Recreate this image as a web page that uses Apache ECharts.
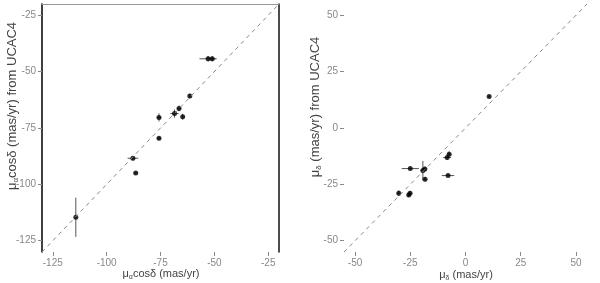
<!DOCTYPE html>
<html><head><meta charset="utf-8">
<script src="https://cdn.jsdelivr.net/npm/echarts@6/dist/echarts.min.js"></script>
<style>html,body{margin:0;padding:0;background:#fff}#c{width:600px;height:283px}</style>
</head><body><div id="c"></div>
<script>
// ---- Left panel: mu_alpha cos(delta) ----
const raX   = [-52.9, -51.0, -61.4, -66.4, -68.5, -64.7, -75.7, -75.7, -87.8, -86.5, -114.3];
const raY   = [-44.3, -44.3, -60.8, -66.3, -68.6, -70.0, -70.3, -79.6, -88.4, -95.0, -114.6];
const raXe  = [4.0, 1.5, 0.5, 1.0, 1.9, 0.5, 1.0, 0.8, 2.5, 1.0, 0.5];
const raYe  = [1.2, 1.2, 1.0, 1.3, 1.8, 1.3, 1.8, 0.8, 1.0, 0.5, 8.7];
const raTicks = [-125, -100, -75, -50, -25];
const raRange = [-130, -20];
// ---- Right panel: mu_delta ----
const decX  = [10.7, -7.4, -8.3, -7.9, -25.0, -19.3, -18.4, -18.3, -30.2, -25.1, -25.7];
const decY  = [14.0, -11.6, -13.1, -21.1, -18.0, -18.9, -18.2, -22.7, -28.9, -28.9, -29.7];
const decXe = [0.5, 1.0, 1.8, 2.8, 3.9, 1.0, 1.0, 0.5, 0.8, 1.0, 0.8];
const decYe = [0.5, 1.3, 1.0, 0.5, 0.5, 4.3, 1.0, 1.0, 1.3, 1.0, 1.0];
const decTicks = [-50, -25, 0, 25, 50];
const decRange = [-55, 55];

const FONT = 'Liberation Sans, Arial, sans-serif';
const chart = echarts.init(document.getElementById('c'), null, {renderer: 'canvas'});

function pts(xs, ys) { return xs.map((x, i) => [x, ys[i]]); }
function errs(xs, ys, xe, ye) { return xs.map((x, i) => [x, ys[i], xe[i], ye[i]]); }

function errRender(params, api) {
  const x = api.value(0), y = api.value(1), xe = api.value(2), ye = api.value(3);
  const h0 = api.coord([x - xe, y]), h1 = api.coord([x + xe, y]);
  const v0 = api.coord([x, y - ye]), v1 = api.coord([x, y + ye]);
  const st = {stroke: '#555', lineWidth: 1};
  return {type: 'group', children: [
    {type: 'line', shape: {x1: h0[0], y1: h0[1], x2: h1[0], y2: h1[1]}, style: st},
    {type: 'line', shape: {x1: v0[0], y1: v0[1], x2: v1[0], y2: v1[1]}, style: st}
  ]};
}

function valAxis(range, ticks, extra) {
  return Object.assign({
    type: 'value', min: range[0], max: range[1],
    splitLine: {show: false},
    axisTick: {show: true, length: 4, customValues: ticks, lineStyle: {color: '#888'}},
    axisLabel: {show: true, customValues: ticks, color: '#888', fontSize: 10, fontFamily: FONT, margin: 6},
    axisLine: {show: false, onZero: false}
  }, extra || {});
}
function bareAxis(range, extra) {
  return Object.assign({
    type: 'value', min: range[0], max: range[1],
    splitLine: {show: false}, axisTick: {show: false}, axisLabel: {show: false}
  }, extra);
}

const rich = {
  n: {fontSize: 11, lineHeight: 14, fontFamily: FONT, color: '#444'},
  s: {fontSize: 7, lineHeight: 8, fontFamily: FONT, color: '#444', verticalAlign: 'bottom'},
  N: {fontSize: 13, lineHeight: 16, fontFamily: FONT, color: '#444'},
  S: {fontSize: 8, lineHeight: 9, fontFamily: FONT, color: '#444', verticalAlign: 'bottom'}
};
function label(x, y, text, rot) {
  return {type: 'text', x: x, y: y, rotation: rot || 0,
    style: {text: text, rich: rich, align: 'center', verticalAlign: 'middle', fill: '#444'}};
}

chart.setOption({
  animation: false,
  backgroundColor: '#fff',
  grid: [
    {left: 42, top: 4, width: 237, height: 248},
    {left: 344, top: 4, width: 243, height: 248}
  ],
  xAxis: [
    valAxis(raRange, raTicks, {gridIndex: 0, position: 'bottom'}),
    valAxis(decRange, decTicks, {gridIndex: 1, position: 'bottom'}),
    bareAxis(raRange, {gridIndex: 0, position: 'top', axisLine: {show: true, onZero: false, lineStyle: {color: '#999', width: 1}}})
  ],
  yAxis: [
    valAxis(raRange, raTicks, {gridIndex: 0, position: 'left', axisLine: {show: true, onZero: false, lineStyle: {color: '#000', width: 1.5}}}),
    valAxis(decRange, decTicks, {gridIndex: 1, position: 'left'}),
    bareAxis(raRange, {gridIndex: 0, position: 'right', axisLine: {show: true, onZero: false, lineStyle: {color: '#111', width: 1.5}}})
  ],
  series: [
    {type: 'line', xAxisIndex: 0, yAxisIndex: 0, data: [[raRange[0], raRange[0]], [raRange[1], raRange[1]]],
     symbol: 'none', lineStyle: {color: '#888', width: 1, type: [4, 4]}, silent: true},
    {type: 'line', xAxisIndex: 1, yAxisIndex: 1, data: [[decRange[0], decRange[0]], [decRange[1], decRange[1]]],
     symbol: 'none', lineStyle: {color: '#888', width: 1, type: [4, 4]}, silent: true},
    {type: 'custom', xAxisIndex: 0, yAxisIndex: 0, renderItem: errRender, data: errs(raX, raY, raXe, raYe), encode: {x: 0, y: 1}},
    {type: 'custom', xAxisIndex: 1, yAxisIndex: 1, renderItem: errRender, data: errs(decX, decY, decXe, decYe), encode: {x: 0, y: 1}},
    {type: 'scatter', xAxisIndex: 0, yAxisIndex: 0, data: pts(raX, raY), symbolSize: 5, itemStyle: {color: '#000'}},
    {type: 'scatter', xAxisIndex: 1, yAxisIndex: 1, data: pts(decX, decY), symbolSize: 5, itemStyle: {color: '#000'}}
  ],
  graphic: [
    label(161, 274, '{n|μ}{s|α}{n|cosδ (mas/yr)}'),
    label(466, 275, '{n|μ}{s|δ}{n| (mas/yr)}'),
    label(12, 106, '{N|μ}{S|α}{N|cosδ (mas/yr) from UCAC4}', Math.PI / 2),
    label(315, 107, '{N|μ}{S|δ}{N| (mas/yr) from UCAC4}', Math.PI / 2)
  ]
});
</script>
</body></html>
